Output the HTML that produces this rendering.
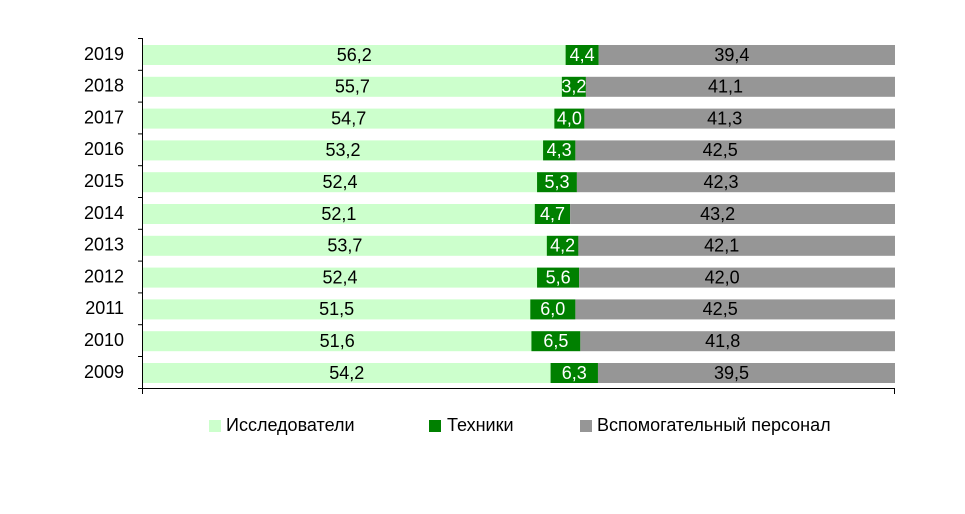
<!DOCTYPE html>
<html><head><meta charset="utf-8"><style>
html,body{margin:0;padding:0;background:#fff;}
svg{display:block;font-family:"Liberation Sans",Arial,sans-serif;}
</style></head><body>
<svg width="965" height="514" xmlns="http://www.w3.org/2000/svg">
<g>
<rect x="143" y="45" width="422.62" height="20" fill="#ccffcc"/><rect x="565.62" y="45" width="33.09" height="20" fill="#008000"/><rect x="598.71" y="45" width="296.29" height="20" fill="#969696"/>
<rect x="143" y="76.8" width="418.86" height="20" fill="#ccffcc"/><rect x="561.86" y="76.8" width="24.06" height="20" fill="#008000"/><rect x="585.92" y="76.8" width="309.08" height="20" fill="#969696"/>
<rect x="143" y="108.6" width="411.34" height="20" fill="#ccffcc"/><rect x="554.34" y="108.6" width="30.08" height="20" fill="#008000"/><rect x="584.42" y="108.6" width="310.58" height="20" fill="#969696"/>
<rect x="143" y="140.4" width="400.06" height="20" fill="#ccffcc"/><rect x="543.06" y="140.4" width="32.34" height="20" fill="#008000"/><rect x="575.4" y="140.4" width="319.6" height="20" fill="#969696"/>
<rect x="143" y="172.2" width="394.05" height="20" fill="#ccffcc"/><rect x="537.05" y="172.2" width="39.86" height="20" fill="#008000"/><rect x="576.91" y="172.2" width="318.09" height="20" fill="#969696"/>
<rect x="143" y="204" width="391.79" height="20" fill="#ccffcc"/><rect x="534.79" y="204" width="35.34" height="20" fill="#008000"/><rect x="570.13" y="204" width="324.87" height="20" fill="#969696"/>
<rect x="143" y="235.8" width="403.82" height="20" fill="#ccffcc"/><rect x="546.82" y="235.8" width="31.58" height="20" fill="#008000"/><rect x="578.4" y="235.8" width="316.6" height="20" fill="#969696"/>
<rect x="143" y="267.6" width="394.05" height="20" fill="#ccffcc"/><rect x="537.05" y="267.6" width="42.11" height="20" fill="#008000"/><rect x="579.16" y="267.6" width="315.84" height="20" fill="#969696"/>
<rect x="143" y="299.4" width="387.28" height="20" fill="#ccffcc"/><rect x="530.28" y="299.4" width="45.12" height="20" fill="#008000"/><rect x="575.4" y="299.4" width="319.6" height="20" fill="#969696"/>
<rect x="143" y="331.2" width="388.42" height="20" fill="#ccffcc"/><rect x="531.42" y="331.2" width="48.93" height="20" fill="#008000"/><rect x="580.35" y="331.2" width="314.65" height="20" fill="#969696"/>
<rect x="143" y="363" width="407.58" height="20" fill="#ccffcc"/><rect x="550.58" y="363" width="47.38" height="20" fill="#008000"/><rect x="597.96" y="363" width="297.04" height="20" fill="#969696"/>
</g>
<g font-size="18" text-anchor="middle" dominant-baseline="middle">
<text x="354.3" y="56">56,2</text><text x="582.2" y="56" fill="#fff">4,4</text><text x="731.9" y="56">39,4</text>
<text x="352.4" y="87.8">55,7</text><text x="573.9" y="87.8" fill="#fff">3,2</text><text x="725.5" y="87.8">41,1</text>
<text x="348.7" y="119.6">54,7</text><text x="569.4" y="119.6" fill="#fff">4,0</text><text x="724.7" y="119.6">41,3</text>
<text x="343" y="151.4">53,2</text><text x="559.2" y="151.4" fill="#fff">4,3</text><text x="720.2" y="151.4">42,5</text>
<text x="340" y="183.2">52,4</text><text x="557" y="183.2" fill="#fff">5,3</text><text x="721" y="183.2">42,3</text>
<text x="338.9" y="215">52,1</text><text x="552.5" y="215" fill="#fff">4,7</text><text x="717.6" y="215">43,2</text>
<text x="344.9" y="246.8">53,7</text><text x="562.6" y="246.8" fill="#fff">4,2</text><text x="721.7" y="246.8">42,1</text>
<text x="340" y="278.6">52,4</text><text x="558.1" y="278.6" fill="#fff">5,6</text><text x="722.1" y="278.6">42,0</text>
<text x="336.6" y="310.4">51,5</text><text x="552.8" y="310.4" fill="#fff">6,0</text><text x="720.2" y="310.4">42,5</text>
<text x="337.2" y="342.2">51,6</text><text x="555.9" y="342.2" fill="#fff">6,5</text><text x="722.7" y="342.2">41,8</text>
<text x="346.8" y="374">54,2</text><text x="574.3" y="374" fill="#fff">6,3</text><text x="731.5" y="374">39,5</text>
</g>
<g font-size="18" text-anchor="end" dominant-baseline="middle">
<text x="124" y="55">2019</text><text x="124" y="86.8">2018</text><text x="124" y="118.6">2017</text><text x="124" y="150.4">2016</text><text x="124" y="182.2">2015</text><text x="124" y="214">2014</text><text x="124" y="245.8">2013</text><text x="124" y="277.6">2012</text><text x="124" y="309.4">2011</text><text x="124" y="341.2">2010</text><text x="124" y="373">2009</text>
</g>
<g stroke="#000">
<line x1="142.5" y1="38" x2="142.5" y2="389"/>
<line x1="138" y1="388.5" x2="895" y2="388.5"/>
<line x1="142.5" y1="388" x2="142.5" y2="394"/>
<line x1="894.5" y1="388" x2="894.5" y2="394"/>
<line x1="138" y1="38.5" x2="143" y2="38.5"/><line x1="138" y1="70.3" x2="143" y2="70.3"/><line x1="138" y1="102.1" x2="143" y2="102.1"/><line x1="138" y1="133.9" x2="143" y2="133.9"/><line x1="138" y1="165.7" x2="143" y2="165.7"/><line x1="138" y1="197.5" x2="143" y2="197.5"/><line x1="138" y1="229.3" x2="143" y2="229.3"/><line x1="138" y1="261.1" x2="143" y2="261.1"/><line x1="138" y1="292.9" x2="143" y2="292.9"/><line x1="138" y1="324.7" x2="143" y2="324.7"/><line x1="138" y1="356.5" x2="143" y2="356.5"/>
</g>
<g font-size="18" dominant-baseline="middle">
<rect x="209" y="420" width="12" height="12" fill="#ccffcc"/><text x="226" y="426">Исследователи</text>
<rect x="429" y="420" width="12" height="12" fill="#008000"/><text x="447" y="426">Техники</text>
<rect x="580" y="420" width="12" height="12" fill="#969696"/><text x="597" y="426">Вспомогательный персонал</text>
</g>
</svg>
</body></html>
